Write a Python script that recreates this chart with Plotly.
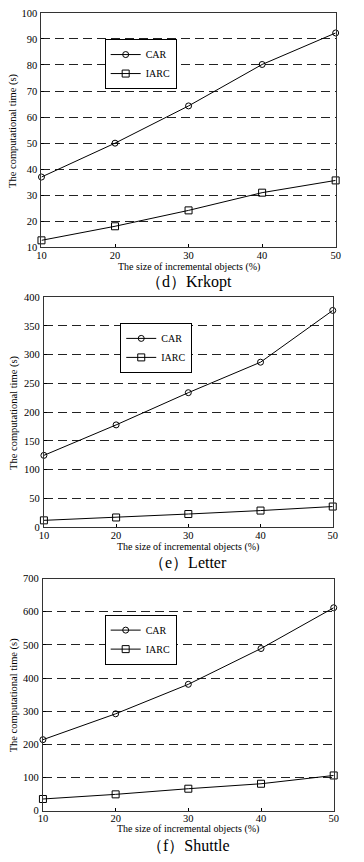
import plotly.graph_objects as go

x_vals = [10, 20, 30, 40, 50]

krkopt_car = [37.0, 50.0, 64.3, 80.2, 92.3]
krkopt_iarc = [12.7, 18.1, 24.2, 31.0, 35.7]

letter_car = [125, 178, 234, 287, 377]
letter_iarc = [12, 17, 23, 29, 36]

shuttle_car = [214, 292, 381, 489, 612]
shuttle_iarc = [35, 49, 66, 81, 106]

captions = ["（d）Krkopt", "（e）Letter", "（f）Shuttle"]
x_title = "The size of incremental objects (%)"
y_title = "The computational time (s)"

W, H = 364, 862
SERIF = "Liberation Serif, Times New Roman, serif"

def px(v):
    return v / W

def py(v):
    return 1 - v / H

panels = [
    dict(car=krkopt_car, iarc=krkopt_iarc, yr=[10, 100], dt=10,
         box=(37.5, 340, 8, 245.5), leg=(102.5, 34.5), xt=265, cap=281, ytx=8),
    dict(car=letter_car, iarc=letter_iarc, yr=[0, 400], dt=50,
         box=(40, 337, 296, 529), leg=(118.5, 322), xt=549, cap=565, ytx=10),
    dict(car=shuttle_car, iarc=shuttle_iarc, yr=[0, 700], dt=100,
         box=(39, 338, 581, 816), leg=(102.5, 617.5), xt=835, cap=851, ytx=9),
]

fig = go.Figure()
layout = dict(
    width=W, height=H, margin=dict(l=0, r=0, t=0, b=0),
    paper_bgcolor="white", plot_bgcolor="white",
    font=dict(family=SERIF, color="black", size=10),
    annotations=[],
)

for i, p in enumerate(panels):
    n = "" if i == 0 else str(i + 1)
    xa, ya = "x" + n, "y" + n
    lg = "legend" + n
    x0, x1, y0, y1 = p["box"]
    fig.add_trace(go.Scatter(
        x=x_vals, y=p["car"], name="CAR", mode="lines+markers",
        line=dict(color="black", width=1),
        marker=dict(symbol="circle-open", size=6, color="black", line=dict(width=1)),
        xaxis=xa, yaxis=ya, legend=lg, cliponaxis=False))
    fig.add_trace(go.Scatter(
        x=x_vals, y=p["iarc"], name="IARC", mode="lines+markers",
        line=dict(color="black", width=1),
        marker=dict(symbol="square-open", size=7, color="black", line=dict(width=1)),
        xaxis=xa, yaxis=ya, legend=lg, cliponaxis=False))
    layout["xaxis" + n] = dict(
        domain=[px(x0), px(x1)], range=[10, 50], anchor=ya,
        tickvals=x_vals, ticks="inside", ticklen=3, tickcolor="black",
        showline=True, linecolor="#333", linewidth=1, mirror=True,
        showgrid=False, zeroline=False, ticklabelstandoff=-2,
        tickfont=dict(family=SERIF, size=10.5, color="black"),
    )
    layout["yaxis" + n] = dict(
        domain=[py(y1), py(y0)], range=p["yr"], anchor=xa, dtick=p["dt"],
        ticks="inside", ticklen=3, tickcolor="black",
        showline=True, linecolor="#333", linewidth=1, mirror=True,
        showgrid=True, gridcolor="#222", gridwidth=1, griddash="9px,5px",
        zeroline=False, ticklabelstandoff=1,
        tickfont=dict(family=SERIF, size=10.5, color="black"),
    )
    layout[lg] = dict(
        x=px(p["leg"][0]), y=py(p["leg"][1]), xanchor="left", yanchor="top",
        bgcolor="white", bordercolor="black", borderwidth=1,
        font=dict(family=SERIF, size=10, color="black"),
        itemwidth=30, tracegroupgap=0,
    )
    layout["annotations"] += [
        dict(text=x_title, x=px((x0 + x1) / 2), y=py(p["xt"]), xref="paper", yref="paper",
             showarrow=False, xanchor="center", yanchor="middle",
             font=dict(family=SERIF, size=10, color="black")),
        dict(text=y_title, x=px(p["ytx"]), y=py((y0 + y1) / 2), xref="paper", yref="paper",
             showarrow=False, xanchor="center", yanchor="middle", textangle=-90,
             font=dict(family=SERIF, size=10.5, color="black")),
        dict(text=captions[i], x=px((x0 + x1) / 2), y=py(p["cap"]), xref="paper", yref="paper",
             showarrow=False, xanchor="center", yanchor="middle",
             font=dict(family=SERIF, size=16, color="black")),
    ]

fig.update_layout(**layout)
fig.write_html("out.html", config={"displayModeBar": False},
               post_script="document.body.style.margin='0';")
